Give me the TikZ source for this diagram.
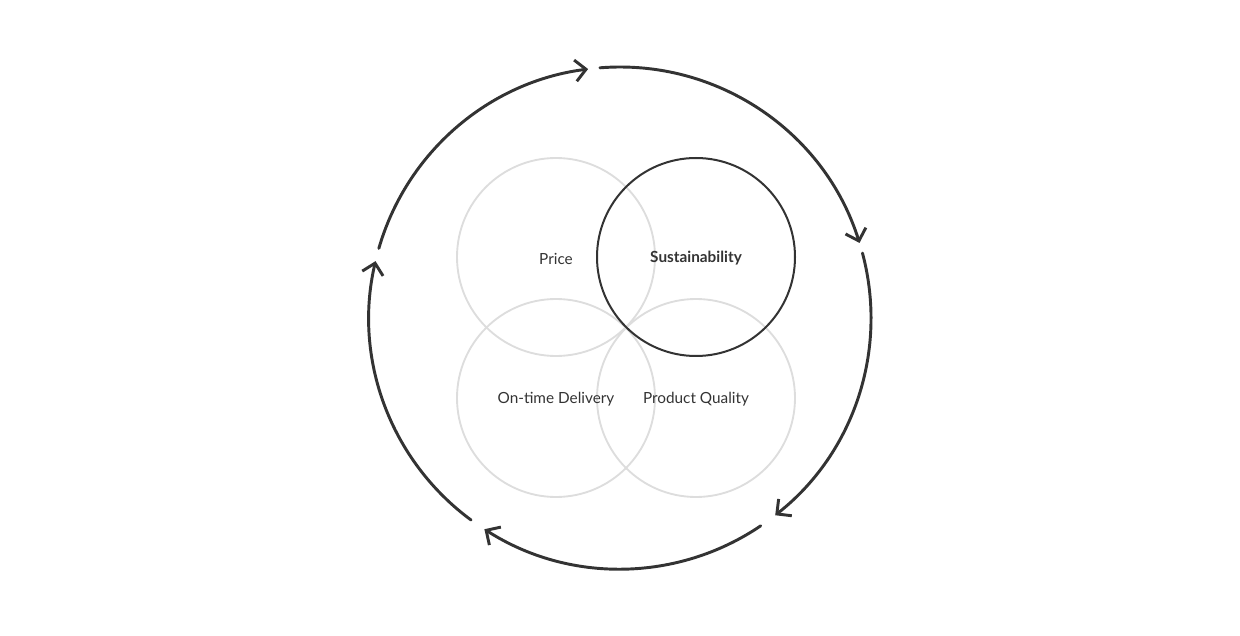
\documentclass[tikz,border=0pt]{standalone}
\usepackage{fontspec}
\setmainfont{Lato}
\usetikzlibrary{arrows.meta}
\definecolor{ink}{HTML}{333333}
\definecolor{faint}{HTML}{DDDDDD}
\begin{document}
\begin{tikzpicture}[x=0.75pt,y=0.75pt,
  bigarc/.style={draw=ink,line width=2.2pt,line cap=round,
    -{Straight Barb[length=8pt,width=16pt,line width=2.2pt]}},
  soft/.style={draw=faint,line width=1.4pt},
  strong/.style={draw=ink,line width=1.5pt},
  lbl/.style={text=ink,font=\fontsize{11.5}{13}\selectfont,inner sep=0pt}]
\useasboundingbox (0,0) rectangle (1240,636);
\coordinate (c) at (620,318);
% four venn circles
\draw[soft] (556,379) circle[radius=99];
\draw[soft] (556,238) circle[radius=99];
\draw[soft] (696,238) circle[radius=99];
\draw[strong] (696,379) circle[radius=99];
\node[lbl] (price) at (556,377.5) {Price};
\node[lbl,font=\fontsize{11.5}{13}\selectfont\bfseries] (sust) at (696,377.5) {Sustainability};
\node[lbl] (otd) at (556,236.5) {On-time Delivery};
\node[lbl] (pq) at (696,236.5) {Product Quality};
% cycle arcs
\draw[bigarc] (c) ++(94.6:251) arc[start angle=94.6,end angle=17.4,radius=251];
\draw[bigarc] (c) ++(15:251) arc[start angle=15,end angle=-51.8,radius=251];
\draw[bigarc] (c) ++(-55.9:251) arc[start angle=-55.9,end angle=-122.7,radius=251];
\draw[bigarc] (c) ++(-126.4:251) arc[start angle=-126.4,end angle=-193.1,radius=251];
\draw[bigarc] (c) ++(-196.1:251) arc[start angle=-196.1,end angle=-262.7,radius=251];
\end{tikzpicture}
\end{document}
